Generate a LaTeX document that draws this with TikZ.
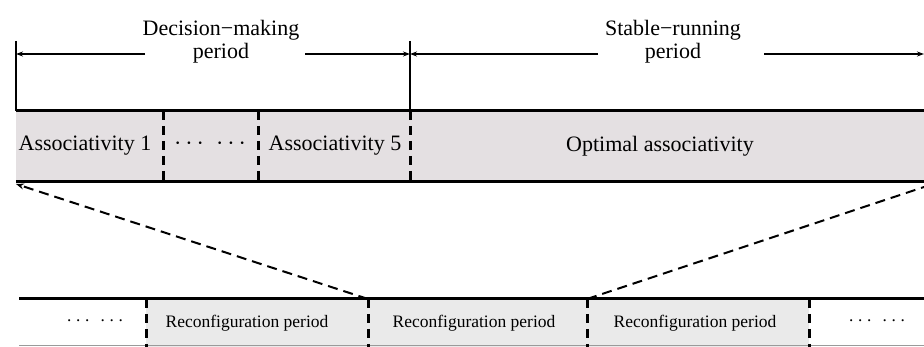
\documentclass[tikz,border=0pt]{standalone}
\usepackage{fontspec}
\setmainfont{Liberation Serif}
\usetikzlibrary{arrows.meta}
\definecolor{topgray}{HTML}{E4E0E2}
\definecolor{botgray}{HTML}{EAEAEA}
\definecolor{edgegray}{HTML}{9A9A9A}
\newcommand{\mydots}{·\hspace{0.18em}·\hspace{0.18em}·\hspace{0.55em}·\hspace{0.18em}·\hspace{0.18em}·}
\tikzset{
  barline/.style={line width=3pt},
  sepline/.style={line width=3pt, dash pattern=on 9pt off 6pt},
  tickline/.style={line width=1.4pt},
  dimarrow/.style={line width=1.4pt, -{Stealth[length=7pt,width=5pt]}},
  diagarrow/.style={line width=2pt, dash pattern=on 10pt off 6pt, -{Stealth[length=8pt,width=6pt]}},
  diagline/.style={line width=2pt, dash pattern=on 10pt off 6pt},
  bigtxt/.style={inner sep=0pt, font=\fontsize{22}{23.5}\selectfont, align=center},
  smalltxt/.style={inner sep=0pt, font=\fontsize{17.5}{20}\selectfont}
}
\begin{document}
\begin{tikzpicture}[x=1pt,y=-1pt]
\useasboundingbox (0,0) rectangle (924,347);
% fills
\fill[topgray] (16,111) rectangle (924,182);
\fill[botgray] (146,299) rectangle (809,347);
% top bar
\draw[barline] (16,111) -- (924,111);
\draw[barline] (16,182) -- (924,182);
\draw[tickline] (16,41) -- (16,111);
\draw[tickline] (410,41) -- (410,111);
\foreach \x in {163,258,410} \draw[sepline] (\x,111) -- (\x,182);
% bottom bar
\draw[barline] (19,299) -- (924,299);
\draw[line width=1pt, edgegray] (19,346) -- (924,346);
\foreach \x in {146,368,587,809} \draw[sepline] (\x,299) -- (\x,347);
% top labels
\node[bigtxt] (dm) at (221,41.5) {Decision−making\\period};
\node[bigtxt] (sr) at (673,41.5) {Stable−running\\period};
\coordinate (dmL) at (16,54);
\coordinate (dmA) at (145,54);
\coordinate (dmB) at (305,54);
\coordinate (mid) at (410,54);
\coordinate (srA) at (598,54);
\coordinate (srB) at (764,54);
\coordinate (srR) at (924,54);
\draw[dimarrow] (dmA) -- (dmL);
\draw[dimarrow] (dmB) -- (mid);
\draw[dimarrow] (srA) -- (mid);
\draw[dimarrow] (srB) -- (srR);
% bar texts
\node[bigtxt] (a1) at (85,146) {Associativity 1};
\node[bigtxt] (ad) at (210,146) {\mydots};
\node[bigtxt] (a5) at (335,146) {Associativity 5};
\node[bigtxt] (ao) at (660,146) {Optimal associativity};
\node[smalltxt] (bd1) at (95,323) {\mydots};
\node[smalltxt] (r1) at (247,323) {Reconfiguration period};
\node[smalltxt] (r2) at (474,323) {Reconfiguration period};
\node[smalltxt] (r3) at (695,323) {Reconfiguration period};
\node[smalltxt] (bd2) at (877,323) {\mydots};
% zoom connectors
\coordinate (zl) at (368,299);
\coordinate (zr) at (587,299);
\coordinate (tl) at (16,184);
\coordinate (tr) at (924,187);
\draw[diagarrow] (zl) -- (tl);
\draw[diagline] (zr) -- (tr);
\end{tikzpicture}
\end{document}
